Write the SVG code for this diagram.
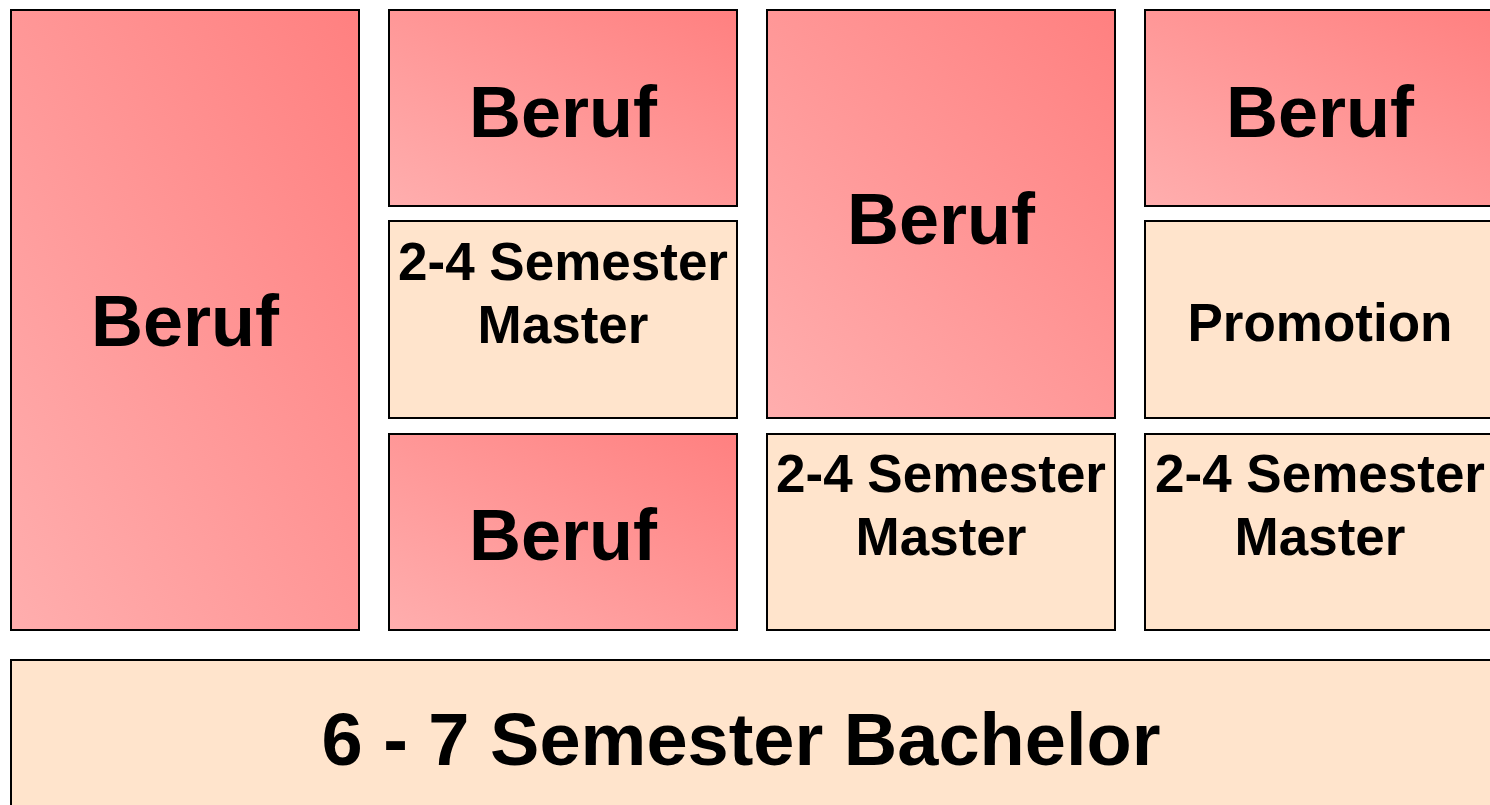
<svg xmlns="http://www.w3.org/2000/svg" width="1490" height="805" viewBox="0 0 1490 805">
<defs>
<linearGradient id="pink" x1="0" y1="1" x2="1" y2="0">
<stop offset="0" stop-color="#FFAEAE"/>
<stop offset="1" stop-color="#FF8080"/>
</linearGradient>
</defs>
<style>
.b{fill:url(#pink);stroke:#000;stroke-width:2}
.m{fill:#FFE4CC;stroke:#000;stroke-width:2}
text{font-family:"Liberation Sans",Arial,sans-serif;font-weight:bold;fill:#000;text-anchor:middle}
.t72{font-size:72px}
.t53{font-size:53px}
.t74{font-size:74px}
</style>
<rect width="1490" height="805" fill="#fff"/>
<g id="beruf1"><rect class="b" x="11" y="10" width="348" height="620"/><text class="t72" x="185" y="346">Beruf</text></g>
<g id="beruf2"><rect class="b" x="389" y="10" width="348" height="196"/><text class="t72" x="563" y="137">Beruf</text></g>
<g id="master2"><rect class="m" x="389" y="221" width="348" height="197"/><text class="t53" x="563" y="280">2-4 Semester</text><text class="t53" x="563" y="343">Master</text></g>
<g id="beruf3"><rect class="b" x="389" y="434" width="348" height="196"/><text class="t72" x="563" y="560">Beruf</text></g>
<g id="beruf4"><rect class="b" x="767" y="10" width="348" height="408"/><text class="t72" x="941" y="244">Beruf</text></g>
<g id="master3"><rect class="m" x="767" y="434" width="348" height="196"/><text class="t53" x="941" y="492">2-4 Semester</text><text class="t53" x="941" y="555">Master</text></g>
<g id="beruf5"><rect class="b" x="1145" y="10" width="348" height="196"/><text class="t72" x="1320" y="137">Beruf</text></g>
<g id="promotion"><rect class="m" x="1145" y="221" width="348" height="197"/><text class="t53" x="1320" y="341">Promotion</text></g>
<g id="master4"><rect class="m" x="1145" y="434" width="348" height="196"/><text class="t53" x="1320" y="492">2-4 Semester</text><text class="t53" x="1320" y="555">Master</text></g>
<g id="bachelor"><rect class="m" x="11" y="660" width="1490" height="160"/><text class="t74" x="741" y="765">6 - 7 Semester Bachelor</text></g>
<g id="connectors"/>
</svg>
